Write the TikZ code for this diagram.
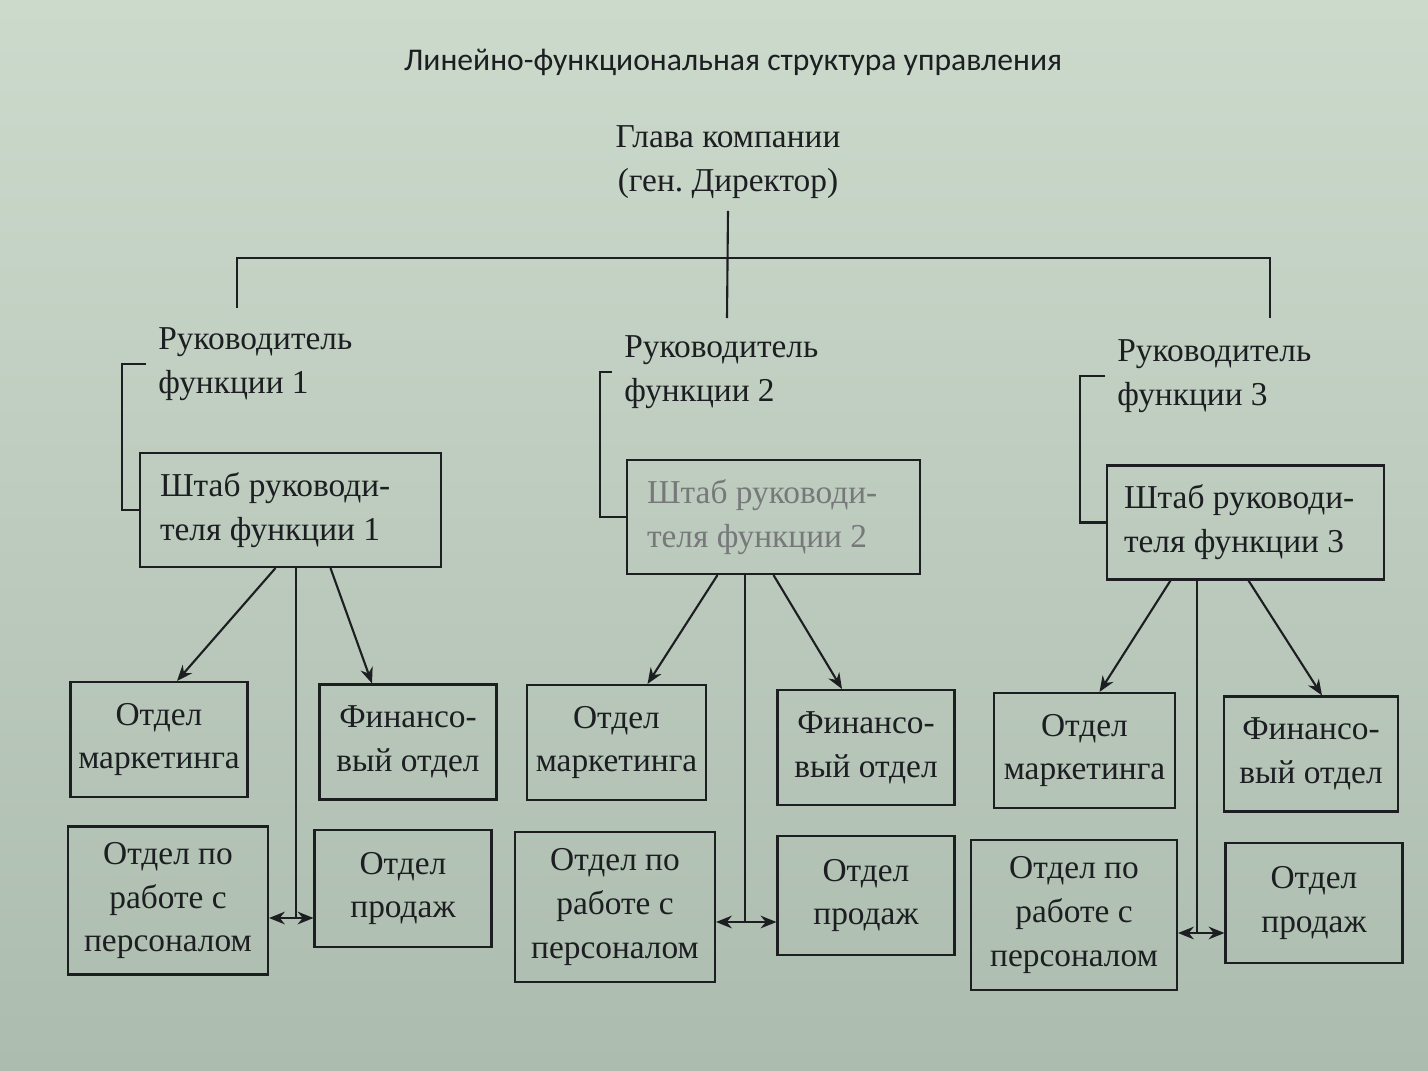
\documentclass[tikz,border=0pt]{standalone}
\usepackage{fontspec}
\setmainfont{Liberation Serif}
\newfontfamily\titlefont{Carlito}
\usetikzlibrary{shapes,arrows.meta,positioning}

\definecolor{paper}{RGB}{204,218,204}
\definecolor{paperdark}{RGB}{172,188,174}
\definecolor{ink}{RGB}{28,30,34}

\begin{document}
\begin{tikzpicture}[
    font=\fontsize{9.5}{12.5}\selectfont,
    box/.style={rectangle, draw=ink, line width=0.6pt, align=center, inner sep=2pt, text=ink},
    staff/.style={box, minimum height=1.14cm, align=flush left, inner xsep=0.2cm},
    dept/.style={box, minimum width=1.77cm, minimum height=1.15cm},
    hrbox/.style={box, minimum width=2.0cm, minimum height=1.48cm},
    head/.style={anchor=west, align=left, text=ink},
    line/.style={draw=ink, line width=0.6pt},
    arrow/.style={line, -{Stealth[length=4.5pt,width=3.6pt]}}
]
    % background of the page
    \shade[top color=paper, bottom color=paperdark] (0,0) rectangle (14.28,-10.70);
    \useasboundingbox (0,0) rectangle (14.28,-10.70);

    \node[text=ink] (title) at (7.33,-0.62) {\titlefont\fontsize{9}{11}\selectfont Линейно-функциональная структура управления};

    % top of the tree
    \node[align=center, text=ink] (boss) at (7.28,-1.62) {Глава компании\\(ген.\ Директор)};
    \coordinate (busL) at (2.37,-2.58);
    \coordinate (busR) at (12.70,-2.58);
    \coordinate (d1) at (2.37,-3.08);
    \coordinate (d2) at (7.27,-3.18);
    \coordinate (d3) at (12.70,-3.18);
    \draw[line] (boss.south) -- (d2);
    \draw[line] (d1) -- (busL) -- (busR) -- (d3);

    % heads of functions
    \node[head] (head1) at (1.46,-3.64) {Руководитель\\функции 1};
    \node[head] (head2) at (6.12,-3.72) {Руководитель\\функции 2};
    \node[head] (head3) at (11.05,-3.76) {Руководитель\\функции 3};

    % staff boxes
    \node[staff, text width=2.61cm] (staff1) at (2.905,-5.10) {Штаб руководи-\\теля функции 1};
    \node[staff, text width=2.53cm, text=ink!60] (staff2) at (7.735,-5.17) {Штаб руководи-\\теля функции 2};
    \node[staff, inner xsep=0.17cm, text width=2.43cm] (staff3) at (12.455,-5.225) {Штаб руководи-\\теля функции 3};

    \draw[line] (head1.west) -- ++(-0.24,0) |- (staff1.west);
    \draw[line] (head2.west) -- ++(-0.12,0) |- (staff2.west);
    \draw[line] (head3.west) -- ++(-0.25,0) |- (staff3.west);

    % departments, function 1
    \node[dept] (mark1) at (1.59,-7.395) {Отдел\\маркетинга};
    \node[dept] (fin1) at (4.08,-7.42) {Финансо-\\вый отдел};
    \node[hrbox] (pers1) at (1.68,-9.005) {Отдел по\\работе с\\персоналом};
    \node[dept, minimum height=1.17cm] (sale1) at (4.03,-8.885) {Отдел\\продаж};

    % departments, function 2
    \node[dept, minimum width=1.79cm] (mark2) at (6.165,-7.425) {Отдел\\маркетинга};
    \node[dept] (fin2) at (8.66,-7.475) {Финансо-\\вый отдел};
    \node[hrbox, minimum height=1.50cm] (pers2) at (6.15,-9.07) {Отдел по\\работе с\\персоналом};
    \node[dept, minimum height=1.19cm] (sale2) at (8.66,-8.955) {Отдел\\продаж};

    % departments, function 3
    \node[dept, minimum width=1.81cm] (mark3) at (10.845,-7.505) {Отдел\\маркетинга};
    \node[dept, minimum width=1.74cm] (fin3) at (13.11,-7.54) {Финансо-\\вый отдел};
    \node[hrbox, minimum width=2.06cm, minimum height=1.50cm] (pers3) at (10.74,-9.15) {Отдел по\\работе с\\персоналом};
    \node[dept, minimum height=1.20cm] (sale3) at (13.14,-9.03) {Отдел\\продаж};

    % links from the staff boxes
    \coordinate (j1) at (2.96,-9.18);
    \coordinate (j2) at (7.45,-9.22);
    \coordinate (j3) at (11.97,-9.33);

    \draw[arrow] ([xshift=-0.15cm]staff1.south) -- ([xshift=0.18cm]mark1.north);
    \draw[arrow] ([xshift=0.40cm]staff1.south) -- ([xshift=-0.36cm]fin1.north);
    \draw[line] (staff1.south -| j1) -- (j1);
    \draw[arrow] (j1) -- (pers1.east |- j1);
    \draw[arrow] (j1) -- (sale1.west |- j1);

    \draw[arrow] ([xshift=-0.56cm]staff2.south) -- ([xshift=0.31cm]mark2.north);
    \draw[arrow] ([xshift=0.0cm]staff2.south) -- ([xshift=-0.24cm]fin2.north);
    \draw[line] (staff2.south -| j2) -- (j2);
    \draw[arrow] (j2) -- (pers2.east |- j2);
    \draw[arrow] (j2) -- (sale2.west |- j2);

    \draw[arrow] ([xshift=-0.75cm]staff3.south) -- ([xshift=0.15cm]mark3.north);
    \draw[arrow] ([xshift=0.03cm]staff3.south) -- ([xshift=0.11cm]fin3.north);
    \draw[line] (staff3.south -| j3) -- (j3);
    \draw[arrow] (j3) -- (pers3.east |- j3);
    \draw[arrow] (j3) -- (sale3.west |- j3);
\end{tikzpicture}
\end{document}
